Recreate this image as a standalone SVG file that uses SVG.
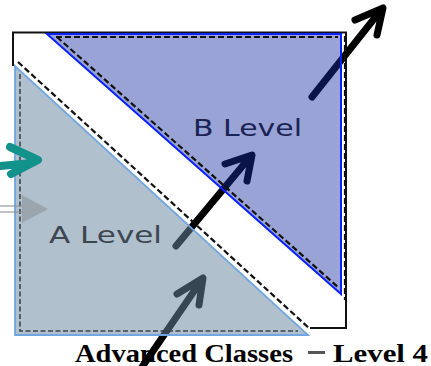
<svg xmlns="http://www.w3.org/2000/svg" width="431" height="366" viewBox="0 0 431 366">
<style>
.arr{fill:none;stroke:#000;stroke-width:7;stroke-linecap:round;stroke-linejoin:round}
.dash{fill:none;stroke:#111;stroke-width:2.2;stroke-dasharray:6 3}
.hand{font-family:"DejaVu Sans",sans-serif;font-size:23px}
.cap{font-family:"Liberation Serif",serif;font-weight:bold;font-size:25px;fill:#000}
</style>
<rect width="431" height="366" fill="#fff"/>
<g id="caption">
<text class="cap" x="75" y="362" textLength="218" lengthAdjust="spacingAndGlyphs">Advanced Classes</text>
<rect x="308" y="351" width="17" height="3" fill="#555"/>
<text class="cap" x="333" y="362" textLength="95" lengthAdjust="spacingAndGlyphs">Level 4</text>
</g>
<g id="frame">
<path d="M13,66 V32.5 H346 V328 H310" fill="none" stroke="#111" stroke-width="2"/>
</g>
<g id="connectors">
<path class="arr" d="M176,246 L250,157 M225,164 L252,155 L247,181"/>
<path class="arr" d="M312,97 L381,10 M355,20 L383,8 L377,35"/>
<path class="arr" d="M140,370 L201,281 M177,294 L203,278 L199,305"/>
</g>
<g id="levelA">
<polygon points="15,66 15,335 308,335" fill="rgb(106,134,160)" fill-opacity="0.52" stroke="#6fa6e0" stroke-width="1.8"/>
<path d="M20,74 V331 H298" fill="none" stroke="#3a4550" stroke-width="1.6" stroke-dasharray="5 2.5"/>
<path class="dash" d="M18,62 L310,329"/>
<text class="hand" x="49" y="243" fill="#3d4752" textLength="113" lengthAdjust="spacingAndGlyphs">A Level</text>
</g>
<g id="levelB">
<polygon points="47,34 341,34 341,294" fill="rgb(23,45,159)" fill-opacity="0.44" stroke="#0a22ff" stroke-width="2"/>
<path class="dash" d="M56,37 H338 M57,37 L339,288"/>
<path class="dash" d="M345,36 V300"/>
<text class="hand" x="193" y="136" fill="#1b2255" textLength="109" lengthAdjust="spacingAndGlyphs">B Level</text>
</g>
<g id="sideArrows">
<path d="M0,166 L32,163 M10,147 L38,160 L11,174" fill="none" stroke="#13918b" stroke-width="8" stroke-linecap="round" stroke-linejoin="round"/>
<g opacity="0.55">
<path d="M0,206 H24 M0,212 H24" stroke="#8a9096" stroke-width="2" fill="none"/>
<polygon points="22,195 48,209 22,223" fill="#8a9096"/>
</g>
</g>
</svg>
